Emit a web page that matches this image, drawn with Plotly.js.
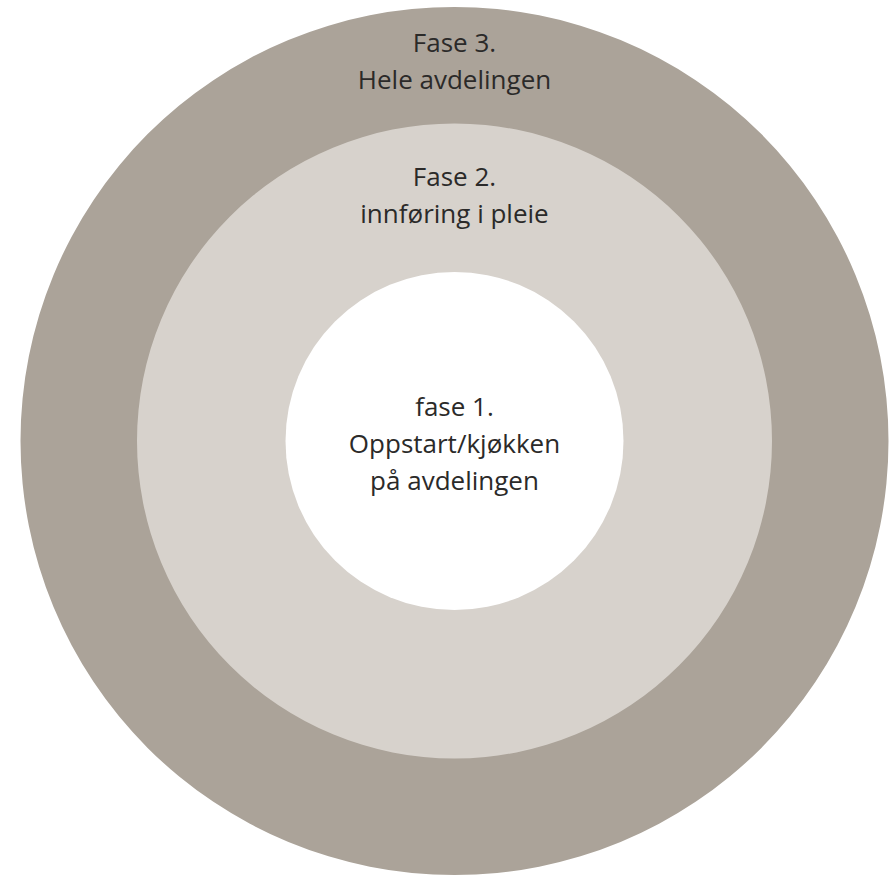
<!DOCTYPE html>
<html>
<head>
<meta charset="utf-8">
<script src="https://cdn.plot.ly/plotly-3.0.1.min.js"></script>
<style>html,body{margin:0;padding:0;background:#fff;}#chart{width:895px;height:875px;}</style>
</head>
<body>
<div id="chart"></div>
<script>
// Phases, from outermost ring to inner disc; each label is a list of lines
const phaseLabels = [
  ["Fase 3.", "Hele avdelingen"],
  ["Fase 2.", "innføring i pleie"],
  ["fase 1.", "Oppstart/kjøkken", "på avdelingen"]
];
const phaseRadii = [434, 317.5, 169];          // outer radius of each phase area
const phaseColors = ["#aba399", "#d7d2cc", "#ffffff"];
const labelShift = [-1, 0.5, 5.5];             // fine vertical tweak of label centres
const lineGap = 37;                            // spacing between label lines

const W = 895, H = 875;
const cx = 454.5, cy = 441;

const shapes = phaseRadii.map((r, i) => ({
  type: "circle", xref: "x", yref: "y",
  x0: -r, x1: r, y0: -r, y1: r,
  fillcolor: phaseColors[i], line: {width: 0}, layer: "below"
}));

const xs = [], ys = [], texts = [];
phaseLabels.forEach((lines, i) => {
  const mid = i + 1 < phaseRadii.length ? (phaseRadii[i] + phaseRadii[i + 1]) / 2 : 0;
  const centre = -mid + labelShift[i];
  lines.forEach((t, k) => {
    xs.push(0);
    ys.push(centre + (k - (lines.length - 1) / 2) * lineGap);
    texts.push(t);
  });
});

const trace = {
  type: "scatter", mode: "text",
  x: xs, y: ys, text: texts,
  textposition: "middle center",
  textfont: {family: "Open Sans, Noto Sans, sans-serif", size: 26, color: "#2b2a29"},
  hoverinfo: "skip", showlegend: false
};

const layout = {
  width: W, height: H,
  margin: {l: 0, r: 0, t: 0, b: 0},
  paper_bgcolor: "#ffffff", plot_bgcolor: "#ffffff",
  xaxis: {range: [-cx, W - cx], visible: false, fixedrange: true},
  yaxis: {range: [H - cy, -cy], autorange: false, visible: false, fixedrange: true},
  shapes: shapes,
  showlegend: false
};

Plotly.newPlot("chart", [trace], layout, {staticPlot: true, displayModeBar: false});
</script>
</body>
</html>
